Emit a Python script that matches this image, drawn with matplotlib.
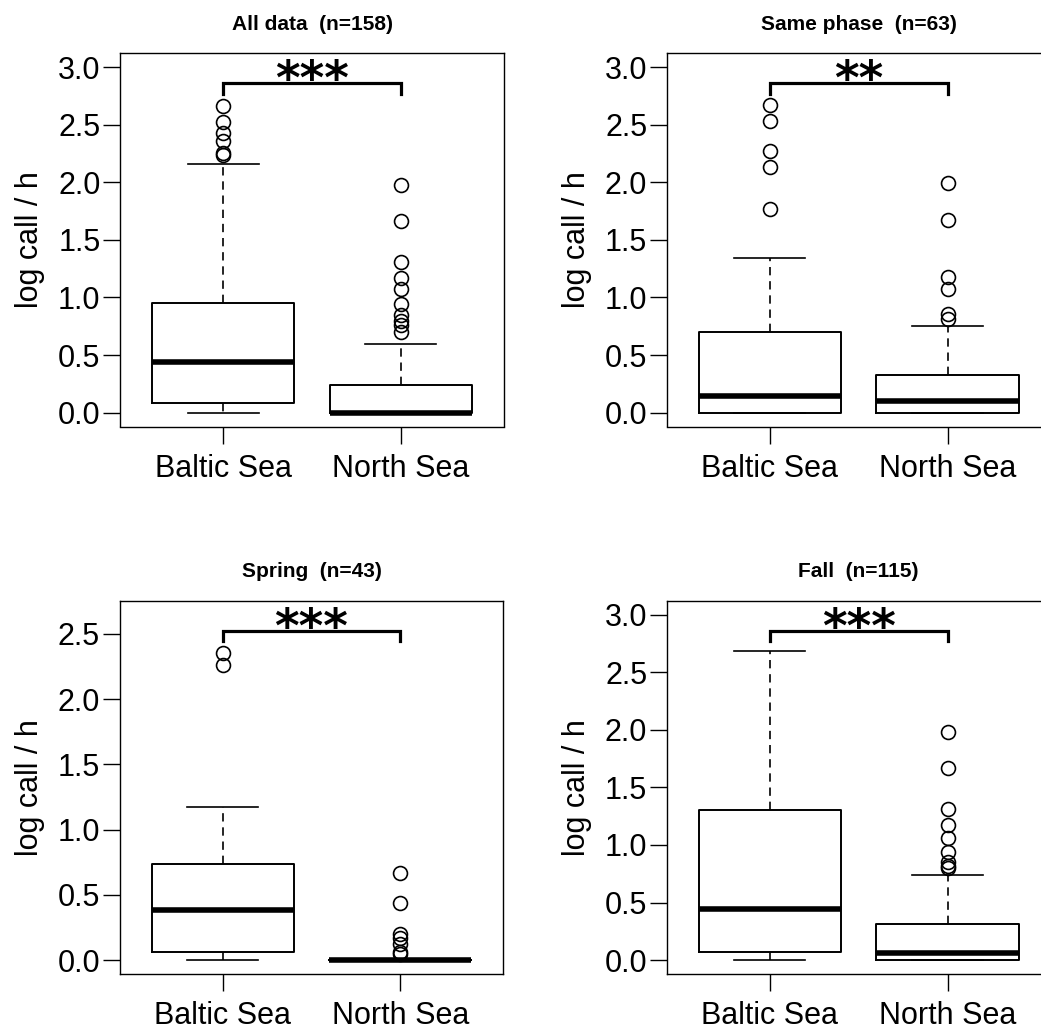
import matplotlib
matplotlib.use("Agg")
import matplotlib.pyplot as plt

plt.rcParams['font.family'] = ['Liberation Sans', 'DejaVu Sans']

# --- data ---
groups = ['Baltic Sea', 'North Sea']
titles = ['All data  (n=158)', 'Same phase  (n=63)', 'Spring  (n=43)', 'Fall  (n=115)']
stars = ['***', '**', '***', '***']

baltic_lo = [0.0, 0.0, 0.0, 0.0]
baltic_q1 = [0.08, 0.0, 0.066, 0.067]
baltic_med = [0.436, 0.144, 0.383, 0.448]
baltic_q3 = [0.948, 0.70, 0.74, 1.30]
baltic_hi = [2.16, 1.34, 1.17, 2.68]
baltic_out = [
    [2.66, 2.52, 2.43, 2.36, 2.255, 2.24],
    [2.67, 2.53, 2.27, 2.13, 1.77],
    [2.35, 2.26],
    [],
]

north_lo = [0.0, 0.0, 0.0, 0.0]
north_q1 = [0.0, 0.0, 0.0, 0.0]
north_med = [0.0, 0.097, 0.0, 0.058]
north_q3 = [0.244, 0.33, 0.0, 0.31]
north_hi = [0.595, 0.75, 0.0, 0.735]
north_out = [
    [1.98, 1.665, 1.31, 1.17, 1.07, 0.94, 0.85, 0.80, 0.76, 0.70],
    [1.99, 1.67, 1.18, 1.075, 0.855, 0.81],
    [0.667, 0.44, 0.204, 0.168, 0.12, 0.066, 0.05],
    [1.98, 1.67, 1.31, 1.17, 1.064, 0.937, 0.855, 0.815, 0.80],
]

bracket_top = [2.86, 2.86, 2.52, 2.86]
bracket_tip = [2.77, 2.77, 2.445, 2.77]
y_limits = [(-0.12, 3.12), (-0.12, 3.12), (-0.106, 2.753), (-0.12, 3.12)]
y_ticks = [[0, 0.5, 1, 1.5, 2, 2.5, 3]] * 2 + [[0, 0.5, 1, 1.5, 2, 2.5]] + [[0, 0.5, 1, 1.5, 2, 2.5, 3]]

# --- layout (figure fractions) ---
W, H = 1041, 1030
ax_w = 384 / W
ax_h = 373.3 / H
lefts = [120 / W, 666.7 / W, 119.5 / W, 666.7 / W]
bottoms = [1 - 426.5 / H, 1 - 426.5 / H, 1 - 974 / H, 1 - 974 / H]

fig = plt.figure(figsize=(W / 100, H / 100), dpi=100)
fig.patch.set_facecolor('white')

for i in range(4):
    ax = fig.add_axes([lefts[i], bottoms[i], ax_w, ax_h])
    stats = [
        dict(med=baltic_med[i], q1=baltic_q1[i], q3=baltic_q3[i],
             whislo=baltic_lo[i], whishi=baltic_hi[i], fliers=baltic_out[i]),
        dict(med=north_med[i], q1=north_q1[i], q3=north_q3[i],
             whislo=north_lo[i], whishi=north_hi[i], fliers=north_out[i]),
    ]
    ax.bxp(stats, positions=[1, 2], widths=0.8, capwidths=0.4,
           boxprops=dict(color='black', lw=1.4),
           medianprops=dict(color='black', lw=4.0, solid_capstyle='butt'),
           whiskerprops=dict(color='black', lw=1.2, linestyle=(0, (5, 3.5))),
           capprops=dict(color='black', lw=1.2),
           flierprops=dict(marker='o', markerfacecolor='none', markeredgecolor='black',
                           markersize=10, markeredgewidth=1.2))

    # significance bracket
    ax.plot([1, 1, 2, 2], [bracket_tip[i], bracket_top[i], bracket_top[i], bracket_tip[i]],
            color='black', lw=2.3, solid_joinstyle='miter')
    ax.annotate(stars[i], xy=(1.5, bracket_top[i]), xytext=(0, -8),
                textcoords='offset points', ha='center', va='baseline',
                fontsize=34, fontweight='bold', family='DejaVu Sans')

    ax.set_xlim(0.42, 2.58)
    ax.set_ylim(*y_limits[i])
    ax.set_yticks(y_ticks[i])
    ax.set_yticklabels([f'{t:.1f}' for t in y_ticks[i]])
    ax.set_xticks([1, 2])
    ax.set_xticklabels(groups)
    ax.tick_params(axis='both', labelsize=22, length=12.5, width=1.0, pad=1.5)
    ax.tick_params(axis='x', pad=7)
    for s in ax.spines.values():
        s.set_linewidth(1.0)
    ax.set_ylabel('log call / h', fontsize=22, labelpad=9)
    ax.set_title(titles[i], fontsize=15, fontweight='bold', pad=17)

fig.savefig('out.png', dpi=100, facecolor='white')
